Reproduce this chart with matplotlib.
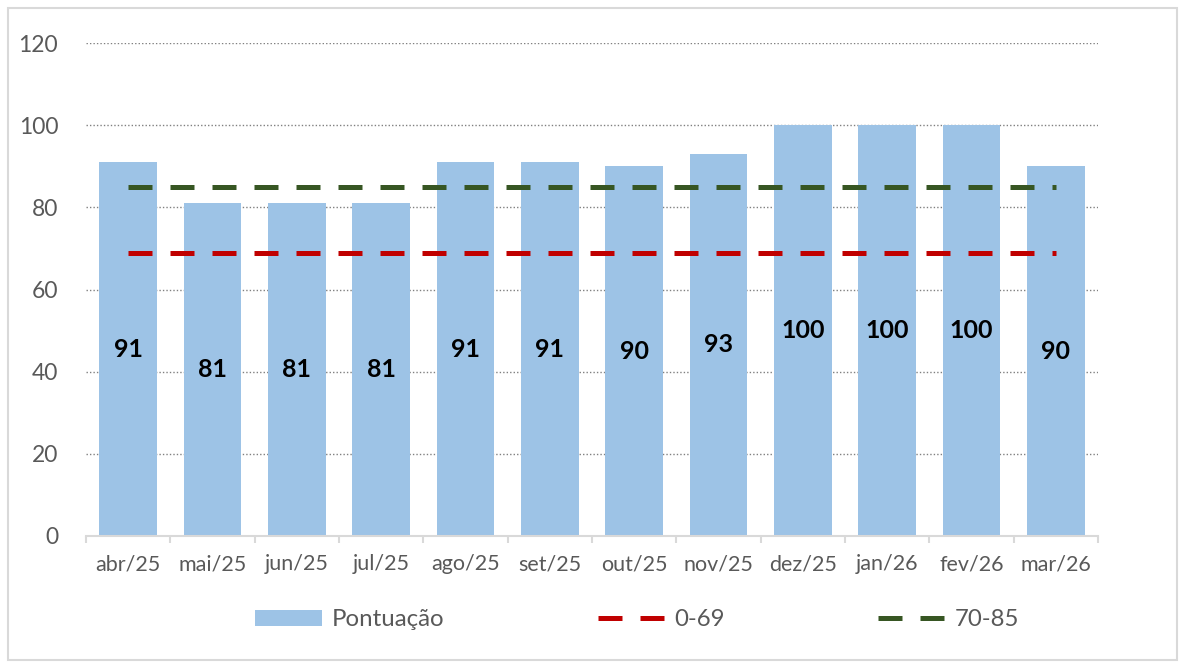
import numpy as np
import matplotlib.pyplot as plt
from matplotlib.patches import Rectangle

plt.rcParams['font.family'] = ['Lato', 'DejaVu Sans']

meses = ['abr/25', 'mai/25', 'jun/25', 'jul/25', 'ago/25', 'set/25',
         'out/25', 'nov/25', 'dez/25', 'jan/26', 'fev/26', 'mar/26']
pontuacao = [91, 81, 81, 81, 91, 91, 90, 93, 100, 100, 100, 90]
limite_baixo = [69] * 12
limite_medio = [85] * 12

x = np.arange(len(meses))

fig = plt.figure(figsize=(11.87, 6.69), dpi=100)
ax = fig.add_axes([86/1187, 1-536/669, (1098-86)/1187, (536-43)/669])

# bars + labels in the middle
bars = ax.bar(x, pontuacao, width=0.68, color='#9DC3E6', label='Pontuação', zorder=2)
for xi, v in zip(x, pontuacao):
    ax.text(xi, v/2, str(v), ha='center', va='center', fontsize=18,
            fontweight='bold', color='black', zorder=4)

# reference lines
ax.plot(x, limite_baixo, color='#C00000', lw=3.6, dashes=(4.8, 3.6),
        dash_capstyle='butt', label='0-69', zorder=3)
ax.plot(x, limite_medio, color='#375623', lw=3.6, dashes=(4.8, 3.6),
        dash_capstyle='butt', label='70-85', zorder=3)

ax.set_xlim(-0.5, len(meses)-0.5)
ax.set_ylim(0, 120)
ax.set_yticks(range(0, 121, 20))
ax.set_xticks(x)
ax.set_xticklabels(meses)
ax.set_xticks(np.arange(-0.5, len(meses)), minor=True)

for g in range(20, 121, 20):
    ax.axhline(g, color='#808080', lw=1.0, ls=(0, (1, 1.5)), zorder=1)

for s in ['top', 'right', 'left']:
    ax.spines[s].set_visible(False)
ax.spines['bottom'].set_color('#D9D9D9')
ax.spines['bottom'].set_linewidth(1.5)

ax.tick_params(axis='y', length=0, labelsize=16.5, labelcolor='#595959', pad=20)
ax.tick_params(axis='x', which='major', length=0, labelsize=15.5, labelcolor='#595959', pad=13)
ax.tick_params(axis='x', which='minor', length=5, width=1.5, color='#D9D9D9', direction='out')

handles, labels = ax.get_legend_handles_labels()
order = [2, 0, 1]
leg = fig.legend([handles[i] for i in order], [labels[i] for i in order],
                 loc='center', bbox_to_anchor=(637/1187, 1-620/669), ncol=3,
                 frameon=False, fontsize=17.3, labelcolor='#595959',
                 handlelength=2.8, handleheight=0.62, columnspacing=6.4, handletextpad=0.37)

fig.patches.append(Rectangle((8/1187, 1-660/669), (1177-8)/1187, (660-8)/669,
                             transform=fig.transFigure, fill=False,
                             edgecolor='#D9D9D9', lw=1.5))

fig.savefig('out.png', dpi=100)
